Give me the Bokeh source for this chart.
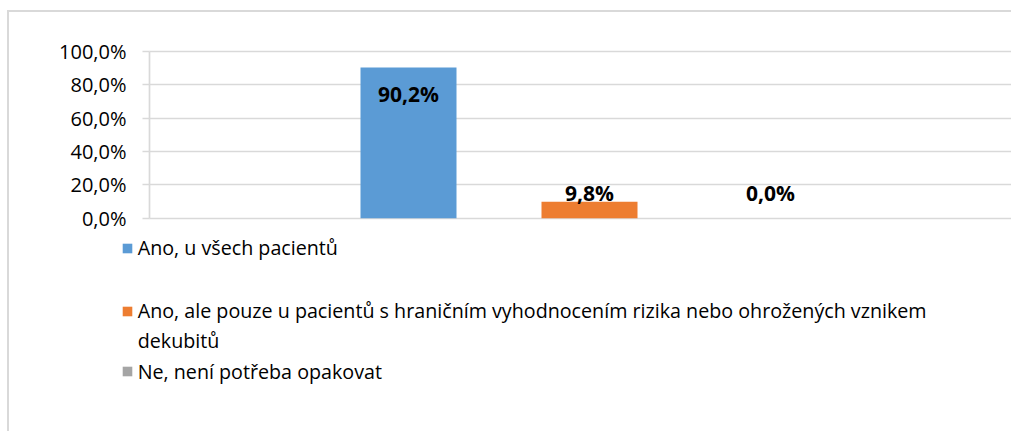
from bokeh.plotting import figure
from bokeh.models import (Range1d, ColumnDataSource, Legend, LegendItem, Grid,
                          CustomJSTickFormatter, FixedTicker, LinearAxis)
from bokeh.core.properties import value
from bokeh.embed import file_html
from bokeh.resources import INLINE

# ---- data ----
series = [
    "Ano, u všech pacientů",
    "Ano, ale pouze u pacientů s hraničním vyhodnocením rizika nebo ohrožených vznikem",
    "Ne, není potřeba opakovat",
]
series2_cont = "dekubitů"   # second line of the 2nd legend entry
values = [90.2, 9.8, 0.0]
colors = ["#5B9BD5", "#ED7D31", "#A5A5A5"]
y_ticks = [0, 20, 40, 60, 80, 100]

FONT = "Open Sans"
GRID = "#D9D9D9"

# ---- layout (pixels) ----
W, H = 1004, 421
LEFT, TOP = 40, 14
CAT_W = 880.0          # pixel width of the single category slot
AXIS_PX = 100.0        # axis line position from frame left
PX_PER_PCT = 1.67
ZERO_PX = 217.7 - 12   # canvas y of the 0 % line
HUNDRED_PX = 50.7 - 12 # canvas y of the 100 % line
PX_PER_PCT = (ZERO_PX - HUNDRED_PX) / 100.0
frame_w = W - LEFT
frame_h = H - TOP
x0 = -AXIS_PX / CAT_W
x1 = (frame_w - AXIS_PX) / CAT_W
y1 = 100 + (HUNDRED_PX - TOP) / PX_PER_PCT
y0 = y1 - frame_h / PX_PER_PCT

p = figure(width=W, height=H, output_backend="svg", toolbar_location=None,
           x_range=Range1d(x0, x1), y_range=Range1d(y0, y1),
           x_axis_location=None, y_axis_location=None,
           min_border_left=LEFT, min_border_right=0,
           min_border_top=TOP, min_border_bottom=0)
p.outline_line_color = None
p.xgrid.visible = False
p.ygrid.visible = False
p.styles = {"border-top": "2px solid #D9D9D9", "border-left": "2px solid #D9D9D9",
            "margin-top": "10px", "margin-left": "7px"}

# grid (only right of the axis)
g = Grid(dimension=1, ticker=FixedTicker(ticks=y_ticks), bounds=(0, 100),
         cross_bounds=(0, x1), grid_line_color=GRID, grid_line_width=1.7)
p.add_layout(g)

step = 181.0 / CAT_W
bw = 96.0 / CAT_W
renderers = []
xs = []
for i, (v, c) in enumerate(zip(values, colors)):
    x = 0.5 + (i - 1) * step
    xs.append(x)
    src = ColumnDataSource(dict(x=[x], top=[v]))
    r = p.vbar(x="x", top="top", width=bw, bottom=0, source=src,
               fill_color=c, line_color=None)
    renderers.append(r)

lab_y = [max(v - 15.8, 15.2) for v in values]
lab_t = [f"{v:.1f}".replace(".", ",") + "%" for v in values]
p.text(x=xs, y=lab_y, text=lab_t, text_align="center", text_baseline="middle",
       text_font=value(FONT), text_font_style="bold", text_font_size="21px",
       text_color="black")

yax = LinearAxis(fixed_location=0, bounds=(0, 100))
yax.ticker = FixedTicker(ticks=y_ticks)
yax.formatter = CustomJSTickFormatter(code="return tick.toFixed(1).replace('.', ',') + '%';")
yax.major_tick_out = 7
yax.major_tick_in = 0
yax.minor_tick_out = 0
yax.minor_tick_in = 0
yax.axis_line_color = GRID
yax.axis_line_width = 1.7
yax.major_tick_line_color = GRID
yax.major_tick_line_width = 1.7
yax.major_label_text_font = FONT
yax.major_label_text_font_size = "20px"
yax.major_label_text_color = "black"
yax.major_label_standoff = 16
p.add_layout(yax, "left")

# legends placed in the frame (screen px from frame bottom-left)
leg_x = 120.7 - 9 - LEFT
LH = 30
entries = [
    (series[0], [renderers[0]], 247.7),
    (series[1], [renderers[1]], 310.7),
    (series2_cont, [], 340.0),
    (series[2], [renderers[2]], 371.0),
]
for label, rs, cy in entries:
    vy = (H - (cy - 12)) - LH / 2
    lg = Legend(items=[LegendItem(label=label, renderers=rs)],
                location=(leg_x, vy),
                label_text_font=FONT, label_text_font_size="19.7px",
                label_text_color="black", glyph_width=12, glyph_height=12,
                label_standoff=5, padding=0, margin=0, spacing=0,
                border_line_color=None, background_fill_alpha=0,
                label_height=LH)
    p.add_layout(lg, "center")

open("out.html", "w").write(file_html(p, INLINE))
